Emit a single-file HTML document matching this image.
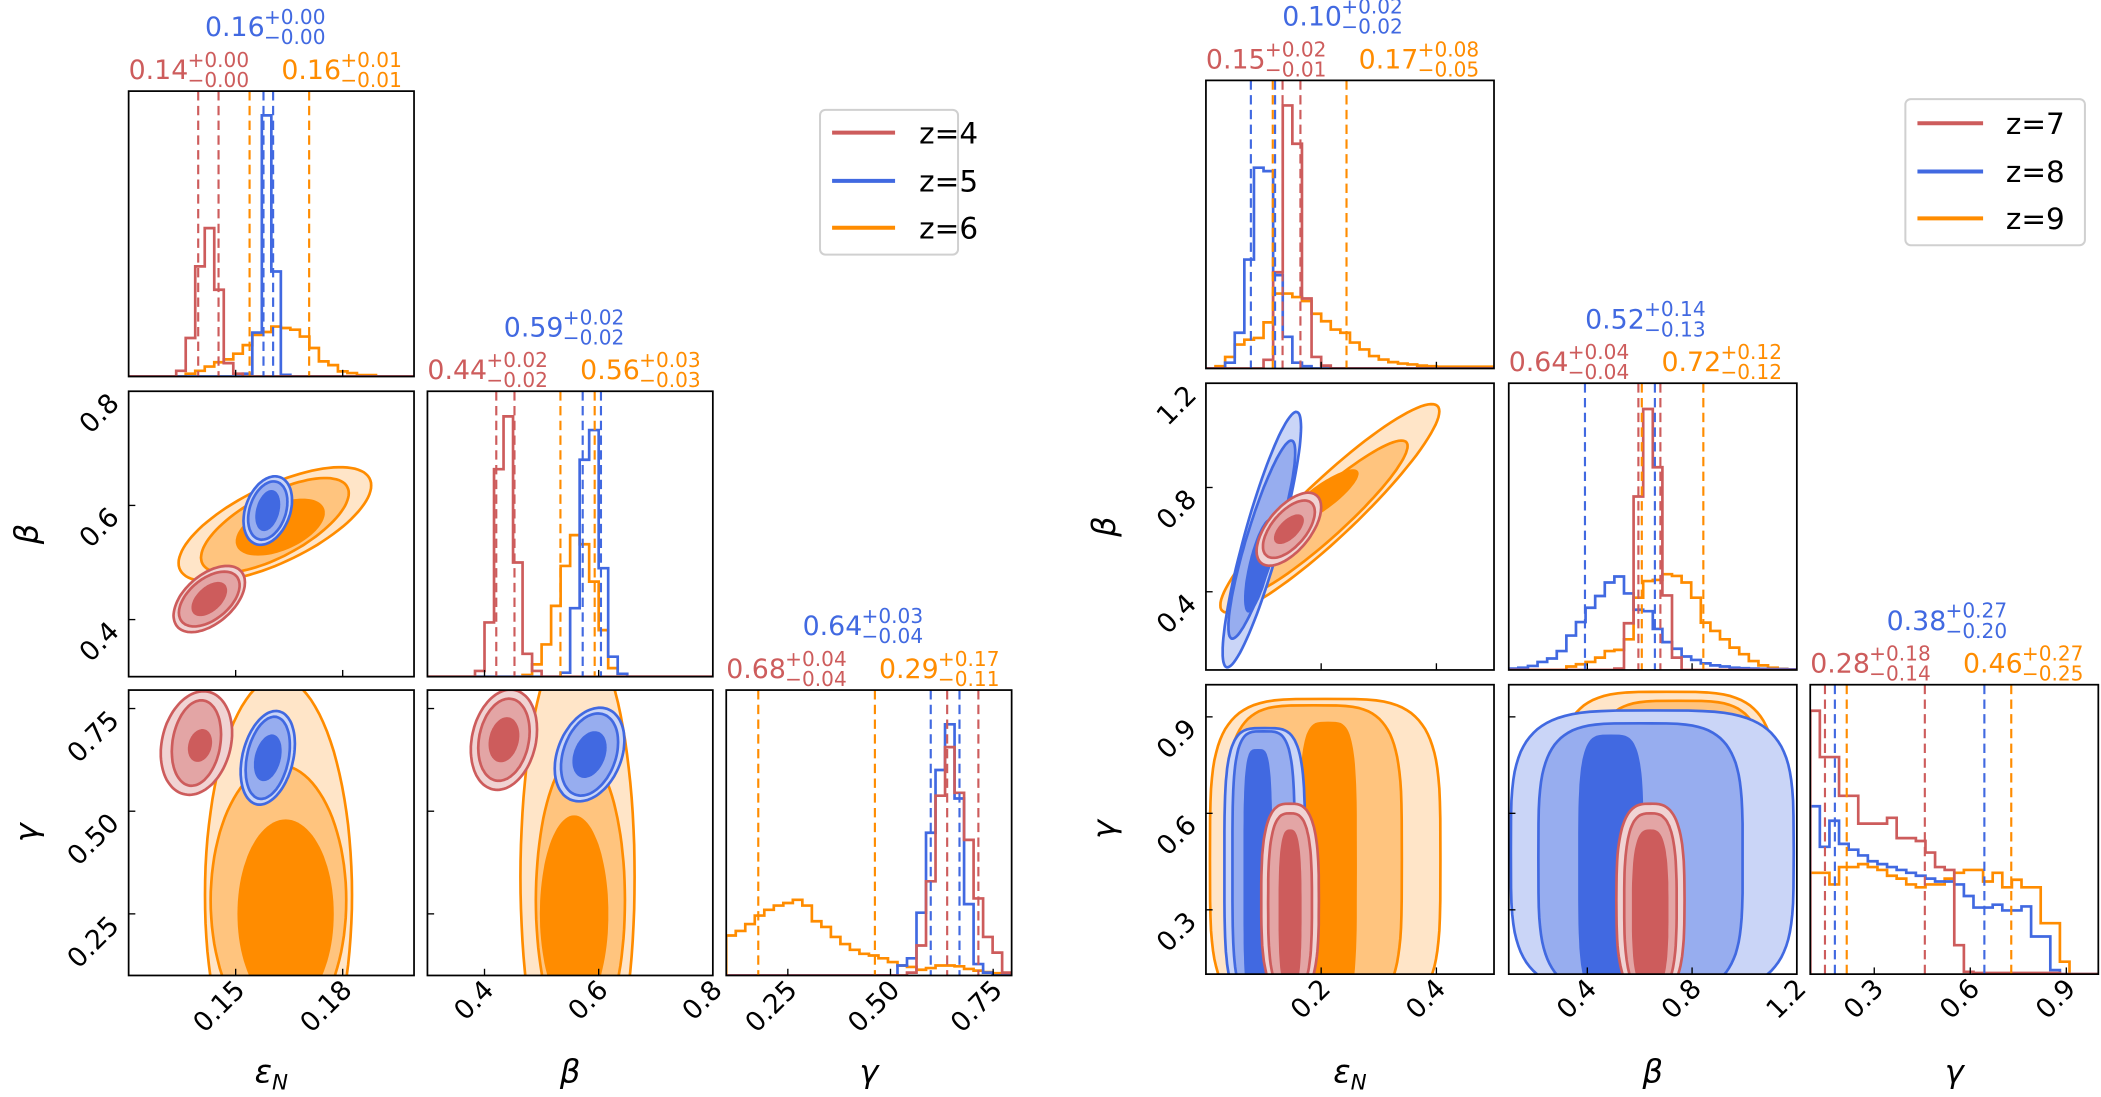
<!DOCTYPE html>
<html><head><meta charset="utf-8"><style>
html,body{margin:0;padding:0;background:#fff;}
svg{display:block;font-family:"DejaVu Sans","Liberation Sans",sans-serif;}
</style></head><body>
<svg id="fig" width="2101" height="1097" viewBox="0 0 1568 818.7" preserveAspectRatio="none" xmlns="http://www.w3.org/2000/svg">
<defs id="defs"></defs>
<g id="left-legend">
<rect x="612" y="82" width="103" height="108" rx="4" fill="#fff" stroke="#d0d0d0" stroke-width="1.5"/>
<line x1="621" y1="99" x2="668" y2="99" stroke="#cd5c5c" stroke-width="3"/><text x="686" y="107" font-size="22">z=4</text>
<line x1="621" y1="135" x2="668" y2="135" stroke="#4169e1" stroke-width="3"/><text x="686" y="143" font-size="22">z=5</text>
<line x1="621" y1="170" x2="668" y2="170" stroke="#ff8c00" stroke-width="3"/><text x="686" y="178" font-size="22">z=6</text>
</g>
<g id="right-legend">
<rect x="1422" y="74" width="134" height="109" rx="4" fill="#fff" stroke="#d0d0d0" stroke-width="1.5"/>
<line x1="1431" y1="92" x2="1480" y2="92" stroke="#cd5c5c" stroke-width="3"/><text x="1497" y="100" font-size="22">z=7</text>
<line x1="1431" y1="128" x2="1480" y2="128" stroke="#4169e1" stroke-width="3"/><text x="1497" y="136" font-size="22">z=8</text>
<line x1="1431" y1="163" x2="1480" y2="163" stroke="#ff8c00" stroke-width="3"/><text x="1497" y="171" font-size="22">z=9</text>
</g>
</svg>
<script>
// ---------- data: left corner (z=4,5,6) ----------
const L_eps_r = [0,0,0,0,0,0.02,0.135,0.386,0.52,0.304,0.047,0.01,0,0,0,0,0,0,0,0,0,0,0,0,0,0,0,0,0,0];
const L_eps_b = [0,0,0,0,0,0,0,0,0,0,0,0,0.01,0.154,0.915,0.368,0.006,0,0,0,0,0,0,0,0,0,0,0,0,0];
const L_eps_o = [0,0,0,0,0,0,0.01,0.02,0.035,0.05,0.06,0.08,0.11,0.146,0.156,0.175,0.17,0.164,0.14,0.10,0.053,0.04,0.018,0.012,0.005,0.005,0,0,0,0];
const L_beta_r = [0,0,0,0,0,0.02,0.19,0.727,0.912,0.40,0.08,0.02,0,0,0,0,0,0,0,0,0,0,0,0,0,0,0,0,0,0];
const L_beta_b = [0,0,0,0,0,0,0,0,0,0,0,0,0,0,0.014,0.24,0.76,0.864,0.38,0.07,0.01,0,0,0,0,0,0,0,0,0];
const L_beta_o = [0,0,0,0,0,0,0,0,0,0,0.006,0.043,0.113,0.248,0.388,0.496,0.464,0.333,0.163,0.03,0.01,0,0,0,0,0,0,0,0,0];
const L_gam_r = [0,0,0,0,0,0,0,0,0,0,0,0,0,0,0,0,0,0,0,0.01,0.105,0.33,0.63,0.80,0.64,0.475,0.27,0.135,0.08,0.01];
const L_gam_b = [0,0,0,0,0,0,0,0,0,0,0,0,0,0,0,0,0,0,0.035,0.06,0.22,0.50,0.72,0.88,0.62,0.25,0.04,0.01,0,0];
const L_gam_o = [0.14,0.156,0.18,0.21,0.23,0.245,0.254,0.265,0.245,0.19,0.17,0.135,0.11,0.09,0.076,0.07,0.06,0.047,0.035,0.03,0.02,0.026,0.035,0.035,0.032,0.023,0.017,0.012,0.008,0.006];
const L_eps_q_r = [0.1395,0.1452], L_eps_q_b = [0.1578,0.1605], L_eps_q_o = [0.1539,0.1706];
const L_beta_q_r = [0.4206,0.4525], L_beta_q_b = [0.572,0.604], L_beta_q_o = [0.533,0.593];
const L_gam_q_r = [0.638,0.714], L_gam_q_b = [0.598,0.668], L_gam_q_o = [0.178,0.462];
// contour levels: [cx, cy, rx, ry, rho, shapeExponent] outer, mid, inner (data units)
const L_eb_o = [[0.161,0.567,0.027,0.10,0.68,2],[0.161,0.565,0.0207,0.083,0.68,2],[0.1625,0.562,0.0125,0.05,0.5,2]];
const L_eb_b = [[0.159,0.591,0.0068,0.06,0.3,2],[0.159,0.591,0.0055,0.051,0.3,2],[0.159,0.591,0.0035,0.036,0.3,2]];
const L_eb_r = [[0.1426,0.436,0.010,0.058,0.5,2],[0.1426,0.436,0.0085,0.048,0.5,2],[0.1426,0.436,0.005,0.03,0.5,2]];
const L_eg_o = [[0.162,0.296,0.0206,0.53,0,2],[0.162,0.283,0.019,0.33,0,2],[0.164,0.25,0.0135,0.23,0,2]];
const L_eg_b = [[0.159,0.630,0.0076,0.114,0.3,2],[0.159,0.630,0.0062,0.10,0.3,2],[0.159,0.630,0.0039,0.057,0.3,2]];
const L_eg_r = [[0.139,0.666,0.010,0.126,0.2,2],[0.139,0.666,0.0069,0.104,0.2,2],[0.140,0.660,0.0034,0.04,0.2,2]];
const L_bg_o = [[0.563,0.34,0.10,0.6,0,2],[0.568,0.283,0.078,0.36,0,2],[0.557,0.25,0.06,0.24,0,2]];
const L_bg_b = [[0.584,0.638,0.061,0.114,0.3,2],[0.584,0.638,0.05,0.10,0.3,2],[0.584,0.638,0.03,0.057,0.3,2]];
const L_bg_r = [[0.434,0.674,0.058,0.122,0.2,2],[0.434,0.674,0.045,0.10,0.2,2],[0.434,0.674,0.027,0.055,0.2,2]];
// ---------- data: right corner (z=7,8,9) ----------
const R_eps_r = [0,0,0,0,0,0,0.03,0.334,0.913,0.78,0.243,0.04,0.01,0,0,0,0,0,0,0,0,0,0,0,0,0,0,0,0,0];
const R_eps_b = [0,0,0.02,0.124,0.378,0.697,0.685,0.324,0.11,0.02,0.008,0,0,0,0,0,0,0,0,0,0,0,0,0,0,0,0,0,0,0];
const R_eps_o = [0,0.008,0.04,0.083,0.10,0.106,0.16,0.26,0.26,0.248,0.234,0.19,0.164,0.135,0.124,0.09,0.066,0.043,0.031,0.022,0.017,0.014,0.01,0.008,0.006,0.006,0.006,0.006,0.006,0.006];
const R_beta_r = [0,0,0,0,0,0,0,0,0,0,0,0.005,0.163,0.605,0.91,0.707,0.26,0.043,0,0,0,0,0,0,0,0,0,0,0,0];
const R_beta_b = [0.005,0.008,0.014,0.028,0.04,0.066,0.12,0.167,0.217,0.258,0.305,0.326,0.267,0.21,0.205,0.143,0.097,0.074,0.047,0.035,0.023,0.016,0.012,0.008,0.006,0.005,0.004,0.003,0.003,0.002];
const R_beta_o = [0,0,0,0,0,0,0.012,0.02,0.028,0.043,0.066,0.07,0.107,0.252,0.31,0.314,0.334,0.328,0.305,0.252,0.165,0.136,0.107,0.078,0.055,0.031,0.016,0.008,0.004,0.002];
const R_gam_r = [0.91,0.75,0.75,0.616,0.616,0.52,0.52,0.52,0.54,0.47,0.47,0.46,0.42,0.37,0.36,0.10,0.008,0.004,0.004,0.004,0.004,0.004,0.004,0.004,0.004,0.004,0,0,0,0];
const R_gam_b = [0.58,0.44,0.53,0.45,0.43,0.41,0.39,0.38,0.37,0.36,0.35,0.34,0.33,0.32,0.32,0.31,0.27,0.23,0.23,0.24,0.22,0.22,0.234,0.13,0.13,0.014,0,0,0,0];
const R_gam_o = [0.35,0.35,0.31,0.37,0.37,0.38,0.37,0.36,0.34,0.33,0.31,0.30,0.31,0.31,0.33,0.35,0.36,0.36,0.32,0.35,0.30,0.326,0.30,0.30,0.176,0.176,0.043,0,0,0];
const R_eps_q_r = [0.133,0.164], R_eps_q_b = [0.078,0.120], R_eps_q_o = [0.116,0.244];
const R_beta_q_r = [0.595,0.679], R_beta_q_b = [0.391,0.658], R_beta_q_o = [0.608,0.843];
const R_gam_q_r = [0.146,0.458], R_gam_q_b = [0.177,0.644], R_gam_q_o = [0.214,0.728];
const R_eb_o = [[0.215,0.72,0.19,0.40,0.93,2],[0.20,0.68,0.15,0.30,0.93,2],[0.20,0.76,0.065,0.11,0.85,2]];
const R_eb_b = [[0.097,0.60,0.068,0.49,0.88,2],[0.097,0.60,0.058,0.38,0.88,2],[0.092,0.50,0.026,0.18,0.7,2]];
const R_eb_r = [[0.144,0.64,0.056,0.14,0.6,2],[0.144,0.64,0.045,0.11,0.6,2],[0.144,0.64,0.026,0.057,0.6,2]];
const R_eg_o = [[0.207,0.456,0.20,0.50,0,4],[0.187,0.456,0.153,0.48,0,4],[0.212,0.435,0.05,0.45,0,4]];
const R_eg_b = [[0.102,0.435,0.07,0.43,0,4],[0.10,0.435,0.054,0.42,0,4],[0.09,0.40,0.025,0.40,0,4]];
const R_eg_r = [[0.146,0.33,0.05,0.30,0,3],[0.146,0.32,0.038,0.28,0,3],[0.146,0.30,0.02,0.25,0,3]];
const R_bg_o = [[0.704,0.498,0.425,0.48,0,4],[0.749,0.49,0.34,0.46,0,4],[0.82,0.80,0.08,0.08,0,2]];
const R_bg_b = [[0.648,0.48,0.54,0.44,0,4],[0.603,0.46,0.39,0.42,0,4],[0.49,0.435,0.125,0.41,0,4]];
const R_bg_r = [[0.641,0.33,0.13,0.30,0,3],[0.641,0.32,0.10,0.28,0,3],[0.64,0.30,0.07,0.25,0,3]];
// ticks
const L_ticks = [[0.15,0.18],[0.4,0.6,0.8],[0.25,0.5,0.75]];
const L_tick_labels = [["0.15","0.18"],["0.4","0.6","0.8"],["0.25","0.50","0.75"]];
const R_ticks = [[0.2,0.4],[0.4,0.8,1.2],[0.3,0.6,0.9]];
const R_tick_labels = [["0.2","0.4"],["0.4","0.8","1.2"],["0.3","0.6","0.9"]];
// titles: [median, plus, minus]
const L_titles = [[["0.14","+0.00","\u22120.00"],["0.16","+0.00","\u22120.00"],["0.16","+0.01","\u22120.01"]],
                  [["0.44","+0.02","\u22120.02"],["0.59","+0.02","\u22120.02"],["0.56","+0.03","\u22120.03"]],
                  [["0.68","+0.04","\u22120.04"],["0.64","+0.03","\u22120.04"],["0.29","+0.17","\u22120.11"]]];
const R_titles = [[["0.15","+0.02","\u22120.01"],["0.10","+0.02","\u22120.02"],["0.17","+0.08","\u22120.05"]],
                  [["0.64","+0.04","\u22120.04"],["0.52","+0.14","\u22120.13"],["0.72","+0.12","\u22120.12"]],
                  [["0.28","+0.18","\u22120.14"],["0.38","+0.27","\u22120.20"],["0.46","+0.27","\u22120.25"]]];

const COL = {r:"#cd5c5c", b:"#4169e1", o:"#ff8c00"};
const FILL = {r:["#f0d3d3","#e3a5a5","#cd5c5c"], b:["#cad5f7","#97adef","#4169e1"], o:["#ffe5c8","#ffc47e","#ff8c00"]};
const NS = "http://www.w3.org/2000/svg";
const svg = document.getElementById("fig");
const defs = document.getElementById("defs");
let clipId = 0;
function mk(tag, attrs, parent){ const e=document.createElementNS(NS,tag); for(const k in attrs) e.setAttribute(k,attrs[k]); (parent||svg).appendChild(e); return e; }

function buildCorner(side, X, Y, ranges, H, Q, CT, ticks, tickLabels, titles, symbols){
  const g = mk("g",{});
  
  
  const keys = ["r","b","o"];
  for(let i=0;i<3;i++){
    for(let j=0;j<=i;j++){
      const x0=X[j][0], x1=X[j][1], y0=Y[i][0], y1=Y[i][1];
      const xr=ranges[j];
      const sx=v=>x0+(v-xr[0])/(xr[1]-xr[0])*(x1-x0);
      const id="clip"+(clipId++);
      const cp=mk("clipPath",{id:id},defs); mk("rect",{x:x0,y:y0,width:x1-x0,height:y1-y0},cp);
      const pg=mk("g",{"clip-path":"url(#"+id+")"},g);
      
      
      if(i===j){
        const sy=v=>y1-v*(y1-y0);
        const order=["o","b","r"];
        order.forEach(k=>{
          const counts=H[i][k]; const n=counts.length; const w=(xr[1]-xr[0])/n;
          let d="M"+sx(xr[0])+","+sy(0);
          for(let b=0;b<n;b++){ d+=" L"+sx(xr[0]+b*w)+","+sy(counts[b])+" L"+sx(xr[0]+(b+1)*w)+","+sy(counts[b]); }
          d+=" L"+sx(xr[1])+","+sy(0);
          const p=mk("path",{d:d,fill:"none",stroke:COL[k],"stroke-width":2},pg);
          
          
        });
        keys.forEach(k=>{
          Q[i][k].forEach(q=>{
            const l=mk("line",{x1:sx(q),x2:sx(q),y1:y0,y2:y1,stroke:COL[k],"stroke-width":1.6,"stroke-dasharray":"7,4"},pg);
            
            
          });
        });
      } else {
        const yr=ranges[i];
        const sy=v=>y1-(v-yr[0])/(yr[1]-yr[0])*(y1-y0);
        const order = side==="left" ? ["o","r","b"] : ["o","b","r"];
        order.forEach(k=>{
          const lv=CT[i+""+j][k];
          lv.forEach((e,li)=>{
            const [cx,cy,rx,ry,rho,p]=e; let d="";
            for(let t=0;t<=96;t++){
              const a=t/96*2*Math.PI, c=Math.cos(a), s=Math.sin(a);
              const u=Math.sign(c)*Math.pow(Math.abs(c),2/p), v=Math.sign(s)*Math.pow(Math.abs(s),2/p);
              const dx=cx+rx*u, dy=cy+ry*(rho*u+Math.sqrt(1-rho*rho)*v);
              d+=(t?"L":"M")+sx(dx).toFixed(1)+","+sy(dy).toFixed(1);
            }
            d+="Z";
            const el=mk("path",{d:d,fill:FILL[k][li],stroke:li<2?COL[k]:"none","stroke-width":2},pg);
            
            
          });
        });
        ticks[i].forEach((t,ti)=>{
          const yy=sy(t);
          mk("line",{x1:x0,x2:x0+5,y1:yy,y2:yy,stroke:"#000","stroke-width":1},g);
          if(j===0){
            const tl=mk("text",{x:x0-6,y:yy+10,"font-size":20,"text-anchor":"end",transform:"rotate(-45 "+(x0-6)+" "+(yy+10)+")"},g);
            tl.textContent=tickLabels[i][ti];
            
            
          }
        });
      }
      mk("rect",{x:x0,y:y0,width:x1-x0,height:y1-y0,fill:"none",stroke:"#000","stroke-width":1.3},g);
      ticks[j].forEach((t,ti)=>{
        const xx=sx(t);
        mk("line",{x1:xx,x2:xx,y1:y1,y2:y1-5,stroke:"#000","stroke-width":1},g);
        if(i===2){
          const tl=mk("text",{x:xx+8,y:y1+12,"font-size":20,"text-anchor":"end",transform:"rotate(-45 "+(xx+8)+" "+(y1+12)+")"},g);
          tl.textContent=tickLabels[j][ti];
          
          
        }
      });
    }
    const x0=X[i][0], y0=Y[i][0];
    const offs=[[0,-9],[57,-41],[114,-9]];
    keys.forEach((k,ki)=>{
      const tt=titles[i][ki];
      const bx=x0+offs[ki][0], by=y0+offs[ki][1];
      const m=mk("text",{x:bx,y:by,"font-size":20,fill:COL[k]},g); m.textContent=tt[0];
      
      
      const sp=mk("text",{x:bx+44,y:by-9,"font-size":15,fill:COL[k]},g); sp.textContent=tt[1];
      
      
      const sb=mk("text",{x:bx+44,y:by+6,"font-size":15,fill:COL[k]},g); sb.textContent=tt[2];
      
      
    });
    const xl=mk("text",{x:(X[i][0]+X[i][1])/2,y:808,"font-size":24,"font-style":"italic","text-anchor":"middle"},g);
    xl.textContent=symbols[i][0];
    if(symbols[i][1]){ const ts=mk("tspan",{"font-size":16,dy:5},xl); ts.textContent=symbols[i][1]; }
    
    
    if(i>0){
      const lx=X[0][0]-68, ly=(Y[i][0]+Y[i][1])/2;
      const yl=mk("text",{x:lx,y:ly,"font-size":24,"font-style":"italic","text-anchor":"middle",transform:"rotate(-90 "+lx+" "+ly+")"},g);
      yl.textContent=symbols[i][0];
      
      
    }
  }
}
const SYM = [["\u03b5","N"],["\u03b2",""],["\u03b3",""]];
buildCorner("left",[[96,309],[319,532],[542,755]],[[68,281],[292,505],[515,728]],[[0.12,0.2],[0.3,0.8],[0.1,0.795]],
  [{r:L_eps_r,b:L_eps_b,o:L_eps_o},{r:L_beta_r,b:L_beta_b,o:L_beta_o},{r:L_gam_r,b:L_gam_b,o:L_gam_o}],
  [{r:L_eps_q_r,b:L_eps_q_b,o:L_eps_q_o},{r:L_beta_q_r,b:L_beta_q_b,o:L_beta_q_o},{r:L_gam_q_r,b:L_gam_q_b,o:L_gam_q_o}],
  {"10":{r:L_eb_r,b:L_eb_b,o:L_eb_o},"20":{r:L_eg_r,b:L_eg_b,o:L_eg_o},"21":{r:L_bg_r,b:L_bg_b,o:L_bg_o}},
  L_ticks,L_tick_labels,L_titles,SYM);
buildCorner("right",[[900,1115],[1126,1341],[1351,1566]],[[60,275],[286,500],[511,727]],[[0,0.5],[0.1,1.2],[0.1,1.0]],
  [{r:R_eps_r,b:R_eps_b,o:R_eps_o},{r:R_beta_r,b:R_beta_b,o:R_beta_o},{r:R_gam_r,b:R_gam_b,o:R_gam_o}],
  [{r:R_eps_q_r,b:R_eps_q_b,o:R_eps_q_o},{r:R_beta_q_r,b:R_beta_q_b,o:R_beta_q_o},{r:R_gam_q_r,b:R_gam_q_b,o:R_gam_q_o}],
  {"10":{r:R_eb_r,b:R_eb_b,o:R_eb_o},"20":{r:R_eg_r,b:R_eg_b,o:R_eg_o},"21":{r:R_bg_r,b:R_bg_b,o:R_bg_o}},
  R_ticks,R_tick_labels,R_titles,SYM);
svg.appendChild(document.getElementById("left-legend"));
svg.appendChild(document.getElementById("right-legend"));
</script>
</body></html>
